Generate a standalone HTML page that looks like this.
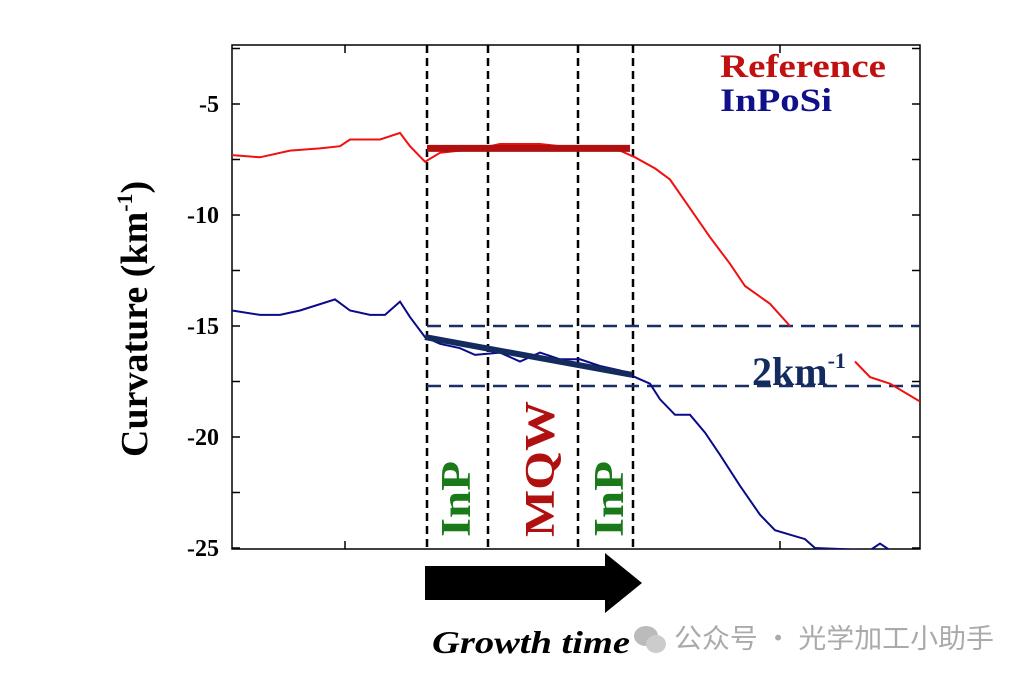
<!DOCTYPE html>
<html><head><meta charset="utf-8"><style>
body{margin:0;background:#fff;}
svg text{font-family:"Liberation Serif",serif;font-weight:bold;}
</style></head><body>
<svg width="1027" height="681" viewBox="0 0 1027 681" xmlns="http://www.w3.org/2000/svg">
<g id="plot"></g>
</svg>
<script>
// x values are in growth-time units 0..688 (arbitrary), y in km^-1
const refX=[0,28,58,88,108,118,148,168,178,193,208,248,268,308,348,388,403,423,438,458,478,498,513,538,558];
const refY=[-7.3,-7.4,-7.1,-7.0,-6.9,-6.6,-6.6,-6.3,-6.9,-7.6,-7.2,-7.0,-6.8,-6.8,-7.0,-7.1,-7.4,-7.9,-8.4,-9.7,-11.0,-12.2,-13.2,-14.0,-15.0];
const ref2X=[623,638,658,688];
const ref2Y=[-16.6,-17.3,-17.6,-18.4];
const blueX=[0,28,48,68,103,118,138,153,168,178,193,208,228,243,268,288,308,328,348,368,388,403,418,428,443,458,473,488,508,528,543,558,573,583,638,648,658];
const blueY=[-14.3,-14.5,-14.5,-14.3,-13.8,-14.3,-14.5,-14.5,-13.9,-14.6,-15.5,-15.8,-16.0,-16.3,-16.2,-16.6,-16.2,-16.5,-16.5,-16.8,-17.0,-17.3,-17.6,-18.3,-19.0,-19.0,-19.8,-20.8,-22.2,-23.5,-24.2,-24.4,-24.6,-25.0,-25.1,-24.8,-25.1];
const yTicks=[-5,-10,-15,-20,-25];
const stageX=[195,256,346,401];
const NS="http://www.w3.org/2000/svg";
const L=232,R=920,T=45,B=549;
const X=v=>L+v*(R-L)/688;
const Y=v=>104+(v+5)*(-22.2);
const g=document.getElementById('plot');
function mk(tag,attrs,parent){const e=document.createElementNS(NS,tag);for(const k in attrs)e.setAttribute(k,attrs[k]);(parent||g).appendChild(e);return e;}
function pts(xs,ys){return xs.map((x,i)=>X(x).toFixed(1)+','+Y(ys[i]).toFixed(1)).join(' ');}
const clip=mk('clipPath',{id:'c'});mk('rect',{x:L,y:T,width:R-L,height:B-T},clip);
let fr=mk('rect',{x:L,y:T,width:R-L,height:B-T,fill:'none',stroke:'#000','stroke-width':1.5});

for(let v=-2.5;v>=-25;v-=2.5){const y=Y(v);if(y<T+2||y>B-1)continue;
 let t=mk('line',{x1:L,x2:L+8,y1:y,y2:y,stroke:'#000','stroke-width':1.5});
 let t2=mk('line',{x1:R,x2:R-8,y1:y,y2:y,stroke:'#000','stroke-width':1.5});}
yTicks.forEach(v=>{let t=mk('text',{x:219,y:Y(v)+8,'text-anchor':'end','font-size':24,fill:'#000'});t.textContent=v;
 });
[113,548].forEach(v=>{mk('line',{x1:X(v),x2:X(v),y1:B,y2:B-8,stroke:'#000','stroke-width':1.5});mk('line',{x1:X(v),x2:X(v),y1:T,y2:T+8,stroke:'#000','stroke-width':1.5});});
stageX.forEach(v=>{let l=mk('line',{x1:X(v),x2:X(v),y1:T,y2:B,stroke:'#000','stroke-width':2.5,'stroke-dasharray':'8,5'});
 });
[-15.0,-17.7].forEach(v=>{let l=mk('line',{x1:X(195),x2:R,y1:Y(v),y2:Y(v),stroke:'#1a2f63','stroke-width':2.5,'stroke-dasharray':'14,8'});
 });
let r1=mk('polyline',{points:pts(refX,refY),fill:'none',stroke:'#f01010','stroke-width':2,'clip-path':'url(#c)'});

let r2=mk('polyline',{points:pts(ref2X,ref2Y),fill:'none',stroke:'#f01010','stroke-width':2,'clip-path':'url(#c)'});

let b1=mk('polyline',{points:pts(blueX,blueY),fill:'none',stroke:'#0a0a8a','stroke-width':2,'clip-path':'url(#c)'});

let fr1=mk('line',{x1:X(195),x2:X(398),y1:Y(-7.0),y2:Y(-7.0),stroke:'#b01010','stroke-width':7});

let fb1=mk('line',{x1:X(193),x2:X(400),y1:Y(-15.5),y2:Y(-17.2),stroke:'#132b5e','stroke-width':6});

function txt(s,attrs,name){let t=mk('text',attrs);t.textContent=s;return t;}
txt('Reference',{x:720,y:77,'font-size':33,fill:'#c01010',textLength:166,lengthAdjust:'spacingAndGlyphs'},'legend-reference');
txt('InPoSi',{x:720,y:111,'font-size':33,fill:'#10108a',textLength:112,lengthAdjust:'spacingAndGlyphs'},'legend-inposi');
let k=txt('2km',{x:752,y:385,'font-size':40,fill:'#132b5e'},'delta-label');
let sup=mk('tspan',{dy:-17,'font-size':22},k);sup.textContent='-1';
txt('InP',{transform:'translate(470,537) rotate(-90)','font-size':42,fill:'#1a7a1a',textLength:76,lengthAdjust:'spacingAndGlyphs'},'inp-label-1');
txt('MQW',{transform:'translate(554,537) rotate(-90)','font-size':42,fill:'#b01010',textLength:136,lengthAdjust:'spacingAndGlyphs'},'mqw-label');
txt('InP',{transform:'translate(623,537) rotate(-90)','font-size':42,fill:'#1a7a1a',textLength:76,lengthAdjust:'spacingAndGlyphs'},'inp-label-2');
let yl=txt('Curvature (km',{transform:'translate(147,457) rotate(-90)','font-size':38,fill:'#000'},'y-axis-title');
let s2=mk('tspan',{dy:-15,'font-size':22},yl);s2.textContent='-1';
let s3=mk('tspan',{dy:15},yl);s3.textContent=')';
let ar=mk('polygon',{points:'425,566 605,566 605,553 642,583 605,613 605,600 425,600',fill:'#000'});

txt('Growth time',{x:432,y:653,'font-size':32,'font-style':'italic',fill:'#000',textLength:198,lengthAdjust:'spacingAndGlyphs'},'x-axis-title');
let w=mk('g',{});
mk('ellipse',{cx:646,cy:636,rx:12,ry:10,fill:'#bbb'},w);mk('ellipse',{cx:656,cy:644,rx:10,ry:9,fill:'#ccc'},w);
let wt=mk('text',{x:674,y:648,'font-size':27,fill:'#aaa',textLength:320,lengthAdjust:'spacingAndGlyphs','style':'font-family:"Noto Sans CJK SC",sans-serif;font-weight:normal'},w);wt.textContent='公众号 · 光学加工小助手';
</script>
</body></html>
